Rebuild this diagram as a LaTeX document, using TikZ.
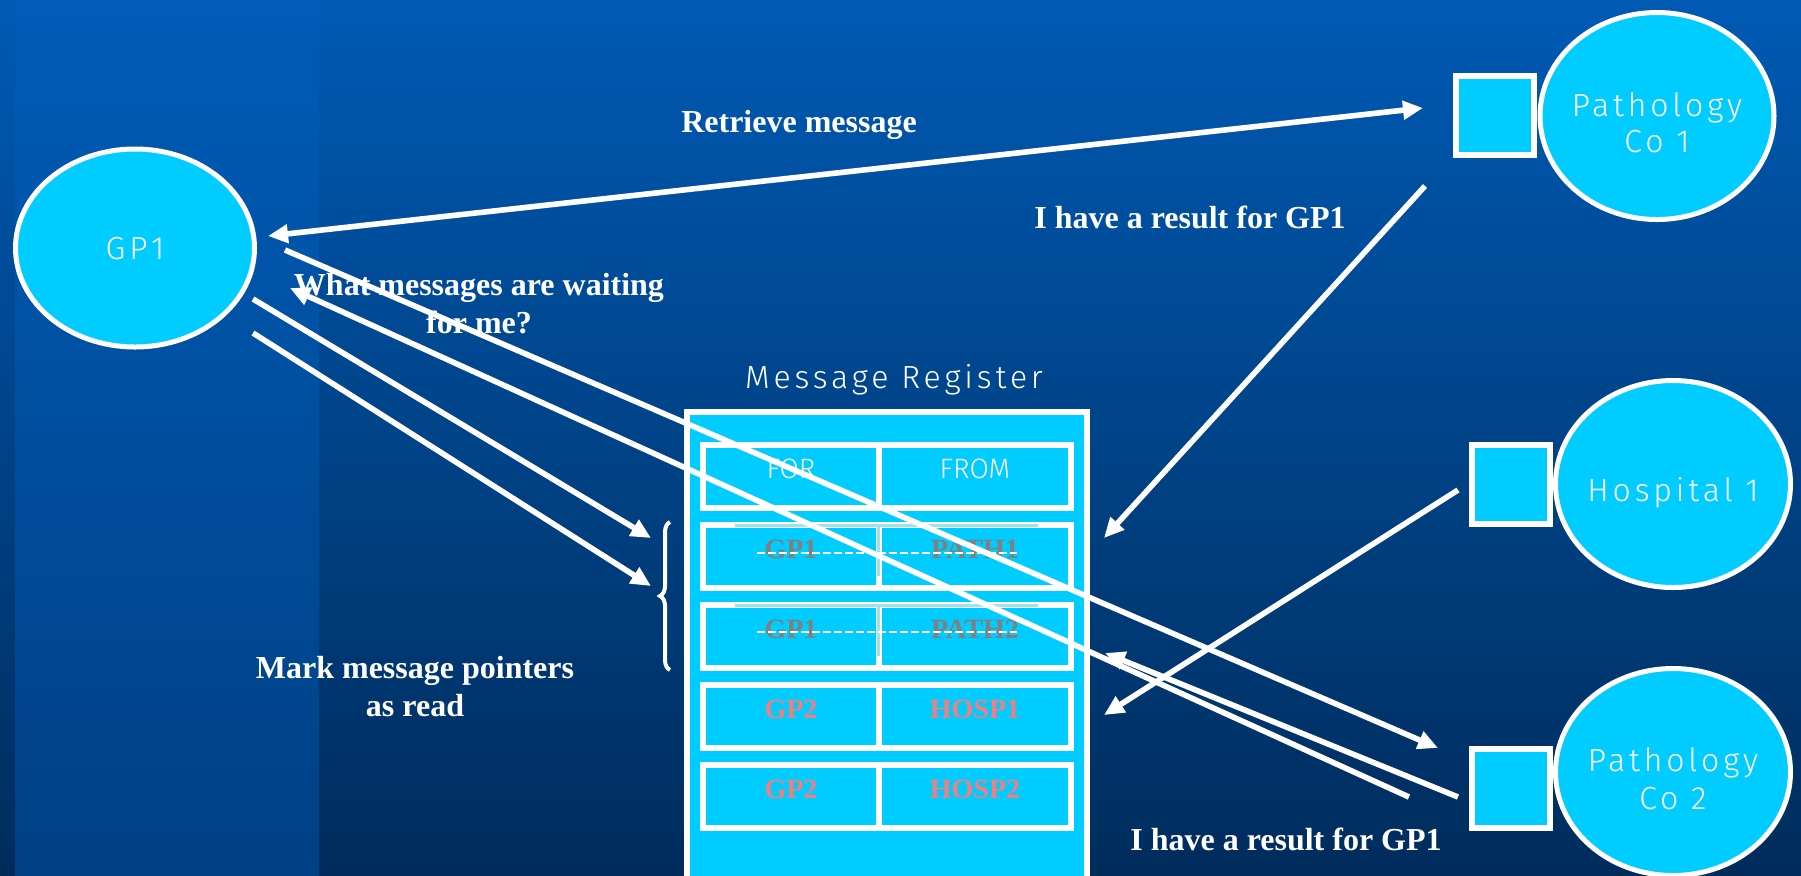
\documentclass[tikz,border=0pt]{standalone}
\usepackage{fontspec}
\setmainfont{Liberation Serif}
\newfontfamily\thinsans{Fira Sans}[UprightFont={* Light}]
\newfontfamily\widesans{Fira Sans}[UprightFont={* Light},LetterSpace=12]
\usetikzlibrary{shapes.geometric,arrows.meta,calc,decorations.pathreplacing}

\definecolor{bgtop}{RGB}{0,90,180}
\definecolor{bgbot}{RGB}{0,44,92}
\definecolor{paneltop}{RGB}{0,92,184}
\definecolor{panelbot}{RGB}{0,64,132}
\definecolor{boxcyan}{RGB}{0,204,255}
\definecolor{oldgrey}{RGB}{128,128,128}
\definecolor{newpink}{RGB}{240,128,128}
\definecolor{strikeband}{RGB}{160,224,245}

\tikzset{
  wtip/.tip={Triangle[length=10pt,width=9pt]},
  site/.style={ellipse,draw=white,line width=2.5pt,fill=boxcyan,inner sep=0pt},
  sitetxt/.style={text=white,align=center,inner sep=0pt,
    font=\widesans\fontsize{16}{18}\selectfont},
  port/.style={rectangle,draw=white,line width=3pt,fill=boxcyan,
    minimum width=39pt,minimum height=39.5pt,inner sep=0pt},
  cell/.style={rectangle,draw=white,line width=3pt,fill=boxcyan,inner sep=0pt,
    minimum height=31.5pt,text height=9pt,text depth=7.5pt},
  head/.style={text=white,font=\thinsans\fontsize{14}{16}\selectfont},
  oldrec/.style={text=oldgrey,font=\bfseries\fontsize{14}{16}\selectfont},
  newrec/.style={text=newpink,font=\bfseries\fontsize{14}{16}\selectfont},
  strike/.style={white,line width=1pt,dash pattern=on 4pt off 1.5pt},
  band/.style={strikeband,line width=1.7pt},
  msg/.style={-wtip,white,line width=2.8pt},
  note/.style={text=white,inner sep=0pt,align=center,
    font=\bfseries\fontsize{16}{19}\selectfont},
}

\begin{document}
\begin{tikzpicture}[x=0.5pt,y=-0.5pt]
    \useasboundingbox (0,0) rectangle (1801,875);

    % Background
    \fill[top color=bgtop,bottom color=bgbot] (0,0) rectangle (1801,875);
    \fill[top color=paneltop,bottom color=panelbot] (15,0) rectangle (319,875);

    % The message register
    \node[draw=white,line width=3pt,fill=boxcyan,minimum width=200pt,minimum height=236.5pt] (REG) at (887,648.5) {};
    \node[anchor=base,text=white,font=\widesans\fontsize{16}{18}\selectfont] (regtitle) at (894,388) {Message Register};

    \node[cell,minimum width=88pt,head] (forhd) at (791,476.5) {FOR};
    \node[cell,minimum width=96pt,head] (fromhd) at (975,476.5) {FROM};
    \node[cell,minimum width=88pt,oldrec] (gpA) at (791,556.5) {GP1};
    \node[cell,minimum width=96pt,oldrec] (pathA) at (975,556.5) {PATH1};
    \node[cell,minimum width=88pt,oldrec] (gpB) at (791,636.5) {GP1};
    \node[cell,minimum width=96pt,oldrec] (pathB) at (975,636.5) {PATH2};
    \node[cell,minimum width=88pt,newrec] (gpC) at (791,716.5) {GP2};
    \node[cell,minimum width=96pt,newrec] (hospA) at (975,716.5) {HOSP1};
    \node[cell,minimum width=88pt,newrec] (gpD) at (791,796.5) {GP2};
    \node[cell,minimum width=96pt,newrec] (hospB) at (975,796.5) {HOSP2};

    % Read entries are struck through
    \draw[band] ($(gpA)+(-56,-31)$) -- ($(pathA)+(63,-31)$);
    \draw[band] ($(gpA)+(87.5,-31)$) -- ++(0,50);
    \draw[band] ($(gpB)+(-56,-31)$) -- ($(pathB)+(63,-31)$);
    \draw[band] ($(gpB)+(87.5,-31)$) -- ++(0,50);
    \draw[strike] ($(gpA)+(-34,-3.5)$) -- ($(pathA)+(42,-3.5)$);
    \draw[strike] ($(gpB)+(-34,-4.5)$) -- ($(pathB)+(42,-4.5)$);

    % Brace round the GP1 entries
    \coordinate (brtop) at (670,522);
    \coordinate (brbot) at (670,670);
    \coordinate (brmid) at (670,596);
    \draw[white,line width=2pt,decorate,decoration={brace,amplitude=5pt}] (brbot) -- (brtop);

    % The sites
    \node[site,minimum width=119.5pt,minimum height=99pt,
      label={[sitetxt,yshift=-0.5pt]center:GP1}] (GP) at (135,248) {};
    \node[site,minimum width=117pt,minimum height=103.5pt,
      label={[sitetxt,yshift=-3.5pt]center:Pathology\\Co 1}] (PC1) at (1657,116) {};
    \node[site,minimum width=117.5pt,minimum height=103.5pt,
      label={[sitetxt,yshift=-4.25pt]center:Hospital 1}] (H1) at (1673,484) {};
    \node[site,minimum width=117.5pt,minimum height=103.5pt,
      label={[sitetxt,yshift=-3.5pt,font=\widesans\fontsize{16}{19}\selectfont]center:Pathology\\Co 2}] (PC2) at (1673,772) {};

    \node[port] (SQ1) at (1495,115.5) {};
    \node[port] (SQH) at (1510.5,484) {};
    \node[port] (SQ2) at (1510.5,788) {};

    % Draw the messages
    \draw[wtip-wtip,white,line width=2.8pt] ($(GP)+(133,-12)$) -- ($(SQ1)+(-72,-7.5)$);
    \draw[msg] ($(GP)+(150,2)$) -- ($(SQ2)+(-72.5,-40)$);
    \draw[msg] ($(SQ2)+(-101.5,9)$) -- ($(GP)+(155,40)$);
    \draw[msg] ($(SQ2)+(-52.5,9)$) -- ($(pathB)+(130,16.5)$);
    \draw[msg] ($(SQ1)+(-70,70.5)$) -- ($(pathA)+(129,-18.5)$);
    \draw[msg] ($(SQH)+(-52.5,6)$) -- ($(hospA)+(129,-1.5)$);
    \draw[msg] ($(GP)+(118,51)$) -- ($(brmid)+(-19,-58)$);
    \draw[msg] ($(GP)+(118,85)$) -- ($(brmid)+(-19,-10)$);

    % Labels
    \node[note,anchor=base] (retr) at (799,132) {Retrieve message};
    \node[note,anchor=base] (resA) at (1190,228) {I have a result for GP1};
    \node[note] (query) at (479,304) {What messages are waiting\\for me?};
    \node[note] (mark) at (415,687) {Mark message pointers\\as read};
    \node[note,anchor=base] (resB) at (1286,850) {I have a result for GP1};
\end{tikzpicture}
\end{document}
